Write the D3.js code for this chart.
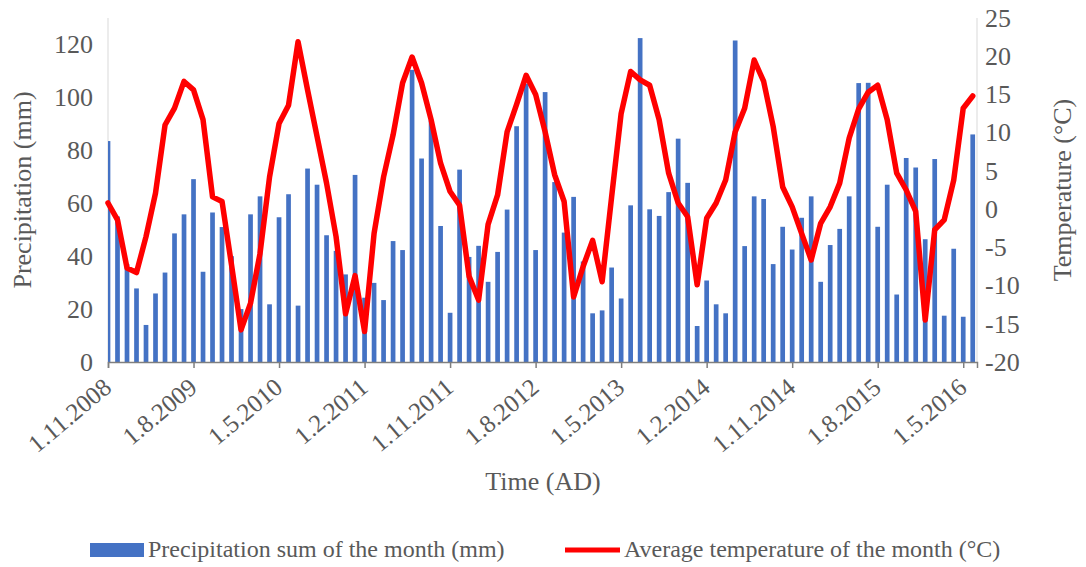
<!DOCTYPE html>
<html>
<head>
<meta charset="utf-8">
<script src="https://cdn.jsdelivr.net/npm/d3@7"></script>
<style>
  html, body { margin: 0; padding: 0; background: #fff; }
  svg { display: block; }
  text { font-family: "Liberation Serif", "Times New Roman", serif; fill: #595959; }
</style>
</head>
<body>
<svg id="chart" width="1086" height="567"></svg>
<script>
// Monthly series, Nov 2008 .. Jun 2016 (index 0 = Nov 2008)
const precipitation = [
  83.5, 55, 37, 27.8, 14.0, 25.9, 33.8, 48.6, 55.8, 69.1, 34.1, 56.5,
  51, 40, 20, 55.8, 62.6, 21.8, 54.7, 63.4, 21.3, 73.1, 67.0, 47.9,
  42, 33.1, 70.7, 24.3, 29.9, 23.4, 45.7, 42.3, 110.4, 76.9, 91.3, 51.4,
  18.6, 72.7, 39.7, 43.9, 30.3, 41.6, 57.6, 89.1, 105.2, 42.3, 102.0, 68,
  48.9, 62.4, 38, 18.4, 19.5, 35.7, 24.0, 59.2, 122.4, 57.7, 55.2, 64.2,
  84.4, 67.7, 13.6, 30.8, 21.8, 18.4, 121.5, 43.8, 62.6, 61.6, 37.0, 51.1,
  42.5, 54.5, 62.6, 30.3, 44.2, 50.3, 62.6, 105.4, 105.5, 51.1, 67.0, 25.5,
  77.1, 73.5, 46.4, 76.7, 17.5, 42.8, 17.1, 86.0
];
const temperature = [
  0.8, -1.4, -7.7, -8.3, -3.6, 2.1, 11.0, 13.2, 16.7, 15.6, 11.7, 1.6,
  1.0, -7.3, -15.8, -12.3, -5.8, 4.2, 11.2, 13.6, 21.9, 15.6, 9.5, 3.4,
  -3.6, -13.7, -8.7, -16.0, -3.2, 4.2, 9.7, 16.5, 19.9, 16.5, 11.7, 6.0,
  2.3, 0.5, -8.8, -11.9, -2.0, 1.85, 10.1, 13.7, 17.5, 15.0, 10.1, 4.5,
  1.0, -11.5, -7.5, -4.1, -9.5, 1.6, 12.5, 18.0, 16.9, 16.2, 11.7, 4.7,
  0.8, -1.0, -9.9, -1.2, 0.8, 3.8, 10.1, 13.2, 19.5, 16.7, 10.8, 2.9,
  0.3, -3.2, -6.65, -1.85, 0.3, 3.4, 9.3, 13.1, 15.3, 16.2, 11.7, 4.7,
  2.5, -0.3, -14.5, -2.7, -1.4, 3.8, 13.2, 14.8
];
const xTickMonths = [0, 9, 18, 27, 36, 45, 54, 63, 72, 81, 90];
const xTickLabels = ["1.11.2008", "1.8.2009", "1.5.2010", "1.2.2011", "1.11.2011",
  "1.8.2012", "1.5.2013", "1.2.2014", "1.11.2014", "1.8.2015", "1.5.2016"];
const leftTicks = [0, 20, 40, 60, 80, 100, 120];
const rightTicks = [-20, -15, -10, -5, 0, 5, 10, 15, 20, 25];
const legendLabels = ["Precipitation sum of the month (mm)", "Average temperature of the month (°C)"];
const titles = { x: "Time (AD)", left: "Precipitation (mm)", right: "Temperature (°C)" };

const svg = d3.select("#chart");
const plot = { left: 108, right: 977, top: 18, bottom: 362 };

const x = d3.scaleLinear().domain([0, 91.45]).range([plot.left, plot.right]);
const yL = d3.scaleLinear().domain([0, 130]).range([plot.bottom, plot.top]);
const yR = d3.scaleLinear().domain([-20, 25]).range([plot.bottom, plot.top]);

svg.append("defs").append("clipPath").attr("id", "clip")
  .append("rect").attr("x", plot.left).attr("y", plot.top - 10)
  .attr("width", plot.right - plot.left).attr("height", plot.bottom - plot.top + 10);

// side axis lines (light gray)
svg.append("line").attr("x1", plot.left).attr("x2", plot.left)
  .attr("y1", plot.top).attr("y2", plot.bottom).attr("stroke", "#d9d9d9").attr("stroke-width", 1);
svg.append("line").attr("x1", plot.right).attr("x2", plot.right)
  .attr("y1", plot.top).attr("y2", plot.bottom).attr("stroke", "#d9d9d9").attr("stroke-width", 1);

// bars
const barW = 4.7;
svg.append("g").attr("clip-path", "url(#clip)")
  .selectAll("rect").data(precipitation).join("rect")
  .attr("x", (d, i) => x(i) - barW / 2)
  .attr("width", barW)
  .attr("y", d => yL(d))
  .attr("height", d => yL(0) - yL(d))
  .attr("fill", "#4472C4");

// x axis
const xAxis = d3.axisBottom(x).tickValues(xTickMonths).tickSize(6).tickFormat("");
const gx = svg.append("g").attr("transform", `translate(0,${plot.bottom})`).call(xAxis);
gx.select(".domain").attr("stroke", "#7f7f7f").attr("stroke-width", 1.5);
gx.selectAll(".tick line").attr("stroke", "#7f7f7f").attr("stroke-width", 1.5);

svg.append("g").selectAll("text").data(xTickMonths).join("text")
  .attr("transform", (d) => `translate(${x(d) + 5},${plot.bottom + 28}) rotate(-40)`)
  .attr("text-anchor", "end")
  .attr("font-size", 25)
  .text((d, i) => xTickLabels[i]);

// temperature line
svg.append("path").datum(temperature)
  .attr("fill", "none").attr("stroke", "#FF0000").attr("stroke-width", 5.5)
  .attr("stroke-linejoin", "round").attr("stroke-linecap", "round")
  .attr("d", d3.line().x((d, i) => x(i)).y(d => yR(d)));

// axis labels
const fmt = d => String(d);
const yAxisL = d3.axisLeft(yL).tickValues(leftTicks).tickSize(0).tickPadding(15).tickFormat(fmt);
const gl = svg.append("g").attr("transform", `translate(${plot.left},0)`).call(yAxisL);
gl.select(".domain").remove();
gl.selectAll("text").attr("font-size", 26).attr("font-family", "Liberation Serif").attr("fill", "#595959");

const yAxisR = d3.axisRight(yR).tickValues(rightTicks).tickSize(0).tickPadding(8).tickFormat(fmt);
const gr = svg.append("g").attr("transform", `translate(${plot.right},0)`).call(yAxisR);
gr.select(".domain").remove();
gr.selectAll("text").attr("font-size", 26).attr("font-family", "Liberation Serif").attr("fill", "#595959");

// titles
svg.append("text").attr("x", 543).attr("y", 490).attr("text-anchor", "middle")
  .attr("font-size", 26).text(titles.x);
svg.append("text").attr("transform", `translate(31,190) rotate(-90)`).attr("text-anchor", "middle")
  .attr("font-size", 26).text(titles.left);
svg.append("text").attr("transform", `translate(1071,190) rotate(-90)`).attr("text-anchor", "middle")
  .attr("font-size", 26).text(titles.right);

// legend
const lg = svg.append("g");
lg.append("rect").attr("x", 90).attr("y", 543).attr("width", 54).attr("height", 14).attr("fill", "#4472C4");
lg.append("text").attr("x", 148).attr("y", 557).attr("font-size", 24).text(legendLabels[0]);
lg.append("line").attr("x1", 565).attr("x2", 620).attr("y1", 550).attr("y2", 550)
  .attr("stroke", "#FF0000").attr("stroke-width", 5);
lg.append("text").attr("x", 624).attr("y", 557).attr("font-size", 24).text(legendLabels[1]);
</script>
</body>
</html>
